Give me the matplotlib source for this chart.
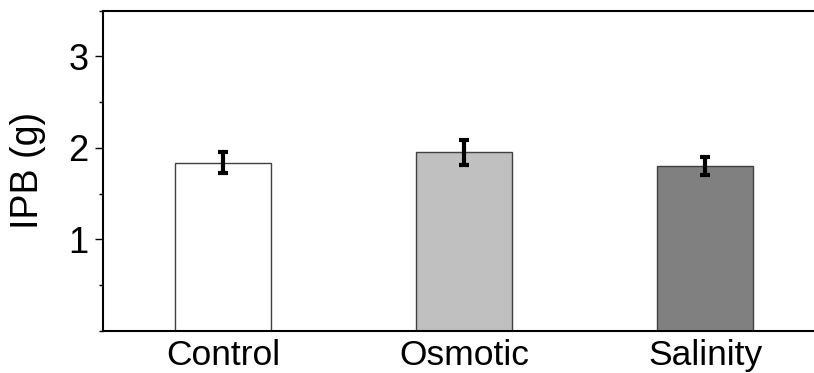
import matplotlib
matplotlib.use("Agg")
import matplotlib.pyplot as plt
import numpy as np
from matplotlib.ticker import MultipleLocator

categories = ["Control", "Osmotic", "Salinity"]
values = [1.84, 1.95, 1.80]
errors = [0.11, 0.135, 0.10]
colors = ["#ffffff", "#c0c0c0", "#808080"]
yticks = [1, 2, 3]

plt.rcParams['font.family'] = ['Liberation Sans', 'DejaVu Sans']

fig = plt.figure(figsize=(8.14, 3.73), dpi=100)
ax = fig.add_axes([0.1262, 0.1126, 0.888, 0.8592])

x = np.arange(len(categories))
ax.bar(x, values, width=0.4, color=colors, edgecolor="#404040", linewidth=1.0, zorder=2)
ax.errorbar(x, values, yerr=errors, fmt="none", ecolor="black", elinewidth=3,
            capsize=3.3, capthick=3, zorder=3)

ax.set_xlim(-0.5, 2.5)
ax.set_ylim(0, 3.5)
ax.set_yticks(yticks)
ax.yaxis.set_minor_locator(MultipleLocator(0.5))
ax.set_xticks(x)
ax.set_xticklabels(categories)
ax.tick_params(axis="y", which="major", length=6, width=1, labelsize=26, direction="out", pad=4)
ax.tick_params(axis="y", which="minor", length=3, width=1, direction="out")
ax.tick_params(axis="x", length=0, labelsize=25.5, pad=6)
ax.set_ylabel("IPB (g)", fontsize=27)
ax.yaxis.set_label_coords(-0.078, 0.5)
for s in ax.spines.values():
    s.set_linewidth(1.5)

fig.savefig("out.png", dpi=100)
